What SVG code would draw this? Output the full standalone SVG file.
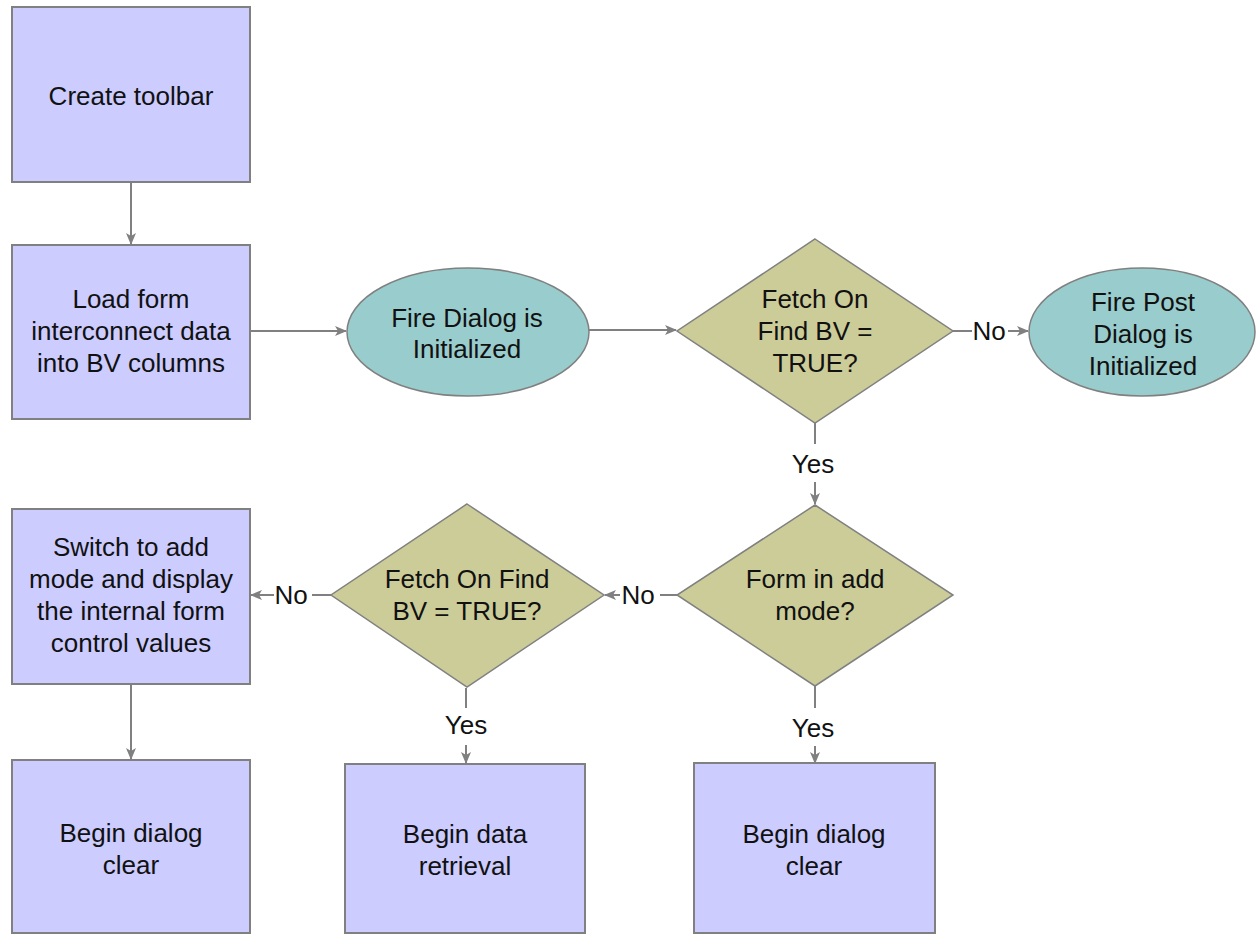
<svg xmlns="http://www.w3.org/2000/svg" width="1257" height="935" viewBox="0 0 1257 935">
<style>
.box{fill:#CCCCFF;stroke:#808080;stroke-width:2}
.ell{fill:#99CCCC;stroke:#808080;stroke-width:1.5}
.dia{fill:#CCCC99;stroke:#808080;stroke-width:1.5}
.t{font-family:"Liberation Sans",Arial,sans-serif;font-size:26px;fill:#111;text-anchor:middle}
.c{stroke:#808080;stroke-width:2;fill:none}
</style>
<defs>
<marker id="ah" markerUnits="userSpaceOnUse" markerWidth="12" markerHeight="10" refX="11" refY="5" orient="auto">
<path d="M0,0 L12,5 L0,10 L3,5 z" fill="#808080"/>
</marker>
</defs>
<rect width="1257" height="935" fill="#fff"/>
<g id="connectors">
<line class="c" x1="131" y1="182" x2="131" y2="244" marker-end="url(#ah)"/>
<line class="c" x1="250" y1="331" x2="346" y2="331" marker-end="url(#ah)"/>
<line class="c" x1="589" y1="330" x2="676" y2="330" marker-end="url(#ah)"/>
<line class="c" x1="953" y1="331" x2="972" y2="331"/>
<line class="c" x1="1008" y1="331" x2="1028" y2="331" marker-end="url(#ah)"/>
<line class="c" x1="815" y1="423" x2="815" y2="444"/>
<line class="c" x1="815" y1="482" x2="815" y2="504" marker-end="url(#ah)"/>
<line class="c" x1="677" y1="595" x2="660" y2="595"/>
<line class="c" x1="620" y1="595" x2="605" y2="595" marker-end="url(#ah)"/>
<line class="c" x1="331" y1="595" x2="312" y2="595"/>
<line class="c" x1="274" y1="595" x2="251" y2="595" marker-end="url(#ah)"/>
<line class="c" x1="466" y1="688" x2="466" y2="708"/>
<line class="c" x1="466" y1="745" x2="466" y2="763" marker-end="url(#ah)"/>
<line class="c" x1="815" y1="686" x2="815" y2="708"/>
<line class="c" x1="815" y1="746" x2="815" y2="763" marker-end="url(#ah)"/>
<line class="c" x1="131" y1="684" x2="131" y2="759" marker-end="url(#ah)"/>
<text class="t" x="989" y="340">No</text>
<text class="t" x="813" y="473">Yes</text>
<text class="t" x="638" y="604">No</text>
<text class="t" x="291" y="604">No</text>
<text class="t" x="466" y="734">Yes</text>
<text class="t" x="813" y="737">Yes</text>
</g>
<g id="n1">
<rect class="box" x="12" y="7" width="238" height="175"/>
<text class="t" x="131" y="105">Create toolbar</text>
</g>
<g id="n2">
<rect class="box" x="12" y="245" width="238" height="174"/>
<text class="t" x="131"><tspan x="131" y="308">Load form</tspan><tspan x="131" y="340">interconnect data</tspan><tspan x="131" y="372">into BV columns</tspan></text>
</g>
<g id="n3">
<ellipse class="ell" cx="468" cy="332" rx="121" ry="64"/>
<text class="t"><tspan x="467" y="327">Fire Dialog is</tspan><tspan x="467" y="358">Initialized</tspan></text>
</g>
<g id="n4">
<polygon class="dia" points="815,239 953,331 815,423 677,331"/>
<text class="t"><tspan x="815" y="308">Fetch On</tspan><tspan x="815" y="340">Find BV =</tspan><tspan x="815" y="372">TRUE?</tspan></text>
</g>
<g id="n5">
<ellipse class="ell" cx="1142" cy="332" rx="113" ry="64"/>
<text class="t"><tspan x="1143" y="311">Fire Post</tspan><tspan x="1143" y="343">Dialog is</tspan><tspan x="1143" y="375">Initialized</tspan></text>
</g>
<g id="n6">
<polygon class="dia" points="815,505 953,595 815,686 677,595"/>
<text class="t"><tspan x="815" y="588">Form in add</tspan><tspan x="815" y="620">mode?</tspan></text>
</g>
<g id="n7">
<polygon class="dia" points="467,504 604,595 467,687 331,595"/>
<text class="t"><tspan x="467" y="588">Fetch On Find</tspan><tspan x="467" y="620">BV = TRUE?</tspan></text>
</g>
<g id="n8">
<rect class="box" x="12" y="509" width="238" height="175"/>
<text class="t"><tspan x="131" y="556">Switch to add</tspan><tspan x="131" y="588">mode and display</tspan><tspan x="131" y="620">the internal form</tspan><tspan x="131" y="652">control values</tspan></text>
</g>
<g id="n9">
<rect class="box" x="12" y="760" width="238" height="173"/>
<text class="t"><tspan x="131" y="842">Begin dialog</tspan><tspan x="131" y="874">clear</tspan></text>
</g>
<g id="n10">
<rect class="box" x="345" y="764" width="240" height="169"/>
<text class="t"><tspan x="465" y="843">Begin data</tspan><tspan x="465" y="875">retrieval</tspan></text>
</g>
<g id="n11">
<rect class="box" x="694" y="763" width="241" height="170"/>
<text class="t"><tspan x="814" y="843">Begin dialog</tspan><tspan x="814" y="875">clear</tspan></text>
</g>
</svg>
